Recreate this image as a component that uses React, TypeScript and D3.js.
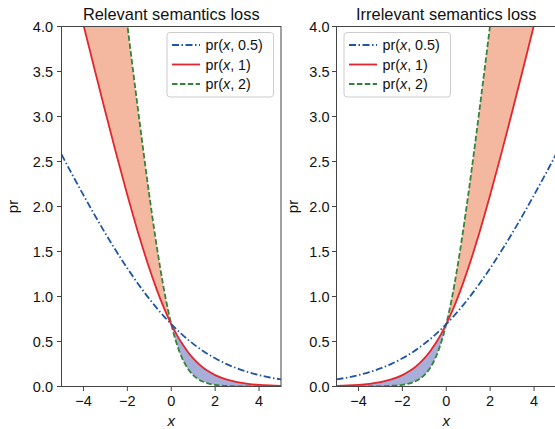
import * as d3 from "d3";

// sample points along x
const xs = [-5, -4.5, -4, -3.5, -3, -2.5, -2, -1.75, -1.5, -1.25, -1, -0.75, -0.5, -0.25, 0,
  0.25, 0.5, 0.75, 1, 1.25, 1.5, 1.75, 2, 2.5, 3, 3.5, 4, 4.5, 5];

// relevant semantics loss (left panel)
const relA05 = [2.579, 2.35, 2.127, 1.91, 1.701, 1.502, 1.313, 1.224, 1.137, 1.054, 0.974, 0.898, 0.826, 0.758, 0.693,
  0.633, 0.576, 0.523, 0.474, 0.429, 0.387, 0.348, 0.313, 0.252, 0.201, 0.16, 0.127, 0.1, 0.079];
const relA1 = [5.007, 4.511, 4.018, 3.53, 3.049, 2.579, 2.127, 1.91, 1.701, 1.502, 1.313, 1.137, 0.974, 0.826, 0.693,
  0.576, 0.474, 0.387, 0.313, 0.252, 0.201, 0.16, 0.127, 0.079, 0.049, 0.03, 0.018, 0.011, 0.007];
const relA2 = [10.0, 9.0, 8.0, 7.001, 6.002, 5.007, 4.018, 3.53, 3.049, 2.579, 2.127, 1.701, 1.313, 0.974, 0.693,
  0.474, 0.313, 0.201, 0.127, 0.079, 0.049, 0.03, 0.018, 0.007, 0.002, 0.001, 0.0, 0.0, 0.0];

// irrelevant semantics loss (right panel)
const irrA05 = [0.079, 0.1, 0.127, 0.16, 0.201, 0.252, 0.313, 0.348, 0.387, 0.429, 0.474, 0.523, 0.576, 0.633, 0.693,
  0.758, 0.826, 0.898, 0.974, 1.054, 1.137, 1.224, 1.313, 1.502, 1.701, 1.91, 2.127, 2.35, 2.579];
const irrA1 = [0.007, 0.011, 0.018, 0.03, 0.049, 0.079, 0.127, 0.16, 0.201, 0.252, 0.313, 0.387, 0.474, 0.576, 0.693,
  0.826, 0.974, 1.137, 1.313, 1.502, 1.701, 1.91, 2.127, 2.579, 3.049, 3.53, 4.018, 4.511, 5.007];
const irrA2 = [0.0, 0.0, 0.0, 0.001, 0.002, 0.007, 0.018, 0.03, 0.049, 0.079, 0.127, 0.201, 0.313, 0.474, 0.693,
  0.974, 1.313, 1.701, 2.127, 2.579, 3.049, 3.53, 4.018, 5.007, 6.002, 7.001, 8.0, 9.0, 10.0];

const xTicks = [-4, -2, 0, 2, 4];
const yTicks = [0, 0.5, 1, 1.5, 2, 2.5, 3, 3.5, 4];
const legendLabels = ["0.5", "1", "2"];

const BLUE = "#1f56a3";
const RED = "#e3262d";
const GREEN = "#34833c";
const FONT = "Liberation Sans, Arial, sans-serif";

type PanelProps = {
  left: number;
  title: string;
  a05: number[];
  a1: number[];
  a2: number[];
  legendX: number;
  ylabelGap: number;
  tickGap: number;
  id: string;
};

function Panel({ left, title, a05, a1, a2, legendX, ylabelGap, tickGap, id }: PanelProps) {
  const w = 219.5;
  const top = 26.5;
  const bottom = 386.5;
  const x = d3.scaleLinear().domain([-5, 5]).range([left, left + w]);
  const y = d3.scaleLinear().domain([0, 4]).range([bottom, top]);

  const line = d3
    .line<number>()
    .x((_, i) => x(xs[i]))
    .y((d) => y(d))
    .curve(d3.curveMonotoneX);

  const pts = xs.map((v, i) => ({ x: v, r: a1[i], g: a2[i] }));
  const area = (pred: (d: { x: number; r: number; g: number }) => boolean) =>
    d3
      .area<{ x: number; r: number; g: number }>()
      .defined(pred)
      .x((d) => x(d.x))
      .y0((d) => y(d.r))
      .y1((d) => y(d.g))
      .curve(d3.curveMonotoneX)(pts) || "";

  const upper = area((d) => d.g >= d.r);
  const lower = area((d) => d.g <= d.r);

  const spine = "#444";
  return (
    <g>
      <defs>
        <clipPath id={id}>
          <rect x={x(-5)} y={top} width={w} height={bottom - top} />
        </clipPath>
      </defs>
      <g clipPath={`url(#${id})`}>
        <path d={upper} fill="#f4b8a0" />
        <path d={lower} fill="#a7aed8" />
        <path d={line(a2) || ""} fill="none" stroke={GREEN} strokeWidth={1.8} strokeDasharray="5.5,2.4" />
        <path d={line(a1) || ""} fill="none" stroke={RED} strokeWidth={1.8} />
        <path d={line(a05) || ""} fill="none" stroke={BLUE} strokeWidth={1.8} strokeDasharray="7,2.5,1.5,2.5" />
      </g>
      <rect x={x(-5)} y={top} width={w} height={bottom - top} fill="none" stroke={spine} strokeWidth={1} />
      {yTicks.map((t) => (
        <g key={t}>
          <line x1={x(-5) - 4.5} x2={x(-5)} y1={y(t)} y2={y(t)} stroke={spine} />
          <text x={x(-5) - tickGap} y={y(t) + 5} textAnchor="end" fontSize={14.5} fontFamily={FONT} fill="#111">
            {t.toFixed(1)}
          </text>
        </g>
      ))}
      {xTicks.map((t) => (
        <g key={t}>
          <line x1={x(t)} x2={x(t)} y1={bottom} y2={bottom + 4.5} stroke={spine} />
          <text x={x(t)} y={bottom + 19.5} textAnchor="middle" fontSize={14.5} fontFamily={FONT} fill="#111">
            {t < 0 ? `\u2212${-t}` : t}
          </text>
        </g>
      ))}
      <text x={x(0)} y={bottom + 39} textAnchor="middle" fontSize={15} fontStyle="italic" fontFamily={FONT} fill="#111">
        x
      </text>
      <text
        transform={`translate(${x(-5) - ylabelGap},${y(2)}) rotate(-90)`}
        textAnchor="middle"
        fontSize={15}
        fontFamily={FONT}
        fill="#111"
      >
        pr
      </text>
      <text x={x(0)} y={20} textAnchor="middle" fontSize={16.4} fontFamily={FONT} fill="#111">
        {title}
      </text>
      <g transform={`translate(${legendX},32.5)`}>
        <rect x={0} y={0} width={106.5} height={64.5} rx={3} fill="white" stroke="#ccc" strokeWidth={1} />
        {legendLabels.map((lab, i) => {
          const ly = 12.5 + i * 19.5;
          const stroke = [BLUE, RED, GREEN][i];
          const dash = ["7,2.5,1.5,2.5", "", "5.5,2.4"][i];
          return (
            <g key={lab}>
              <line x1={5} x2={33} y1={ly} y2={ly} stroke={stroke} strokeWidth={1.8} strokeDasharray={dash || undefined} />
              <text x={38.5} y={ly + 5} fontSize={14.3} fontFamily={FONT} fill="#111">
                pr(<tspan fontStyle="italic">x</tspan>, {lab})
              </text>
            </g>
          );
        })}
      </g>
    </g>
  );
}

export default function App() {
  return (
    <svg width={555} height={429} style={{ position: "absolute", left: 0, top: 0, background: "white" }}>
      <Panel left={61.5} title="Relevant semantics loss" a05={relA05} a1={relA1} a2={relA2}
        legendX={167} ylabelGap={44} tickGap={8.5} id="c1" />
      <Panel left={336.5} title="Irrelevant semantics loss" a05={irrA05} a1={irrA1} a2={irrA2}
        legendX={344} ylabelGap={38.5} tickGap={7} id="c2" />
    </svg>
  );
}
